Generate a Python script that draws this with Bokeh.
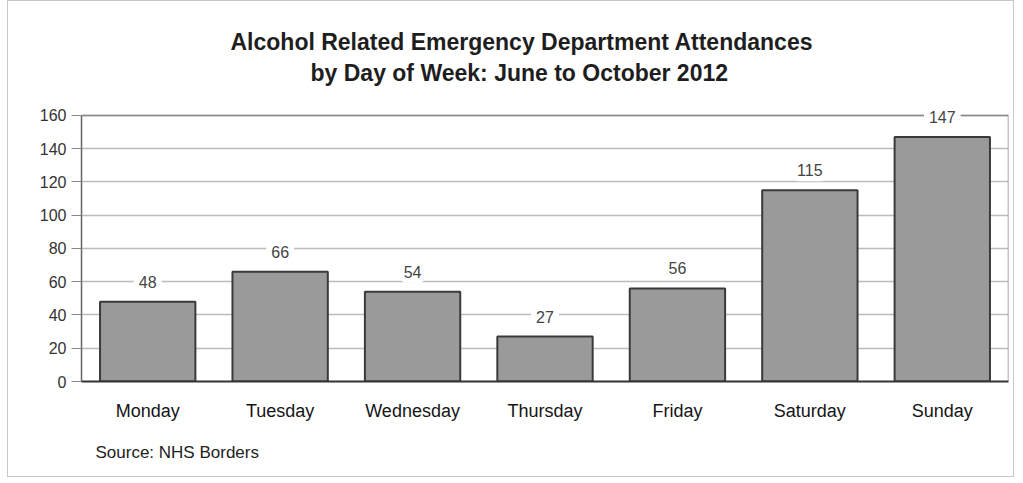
from bokeh.plotting import figure
from bokeh.models import ColumnDataSource, Title, Range1d, FixedTicker, LabelSet
from bokeh.core.properties import value
from bokeh.embed import file_html
from bokeh.resources import INLINE

days = ["Monday", "Tuesday", "Wednesday", "Thursday", "Friday", "Saturday", "Sunday"]
attendances = [48, 66, 54, 27, 56, 115, 147]
y_ticks = [0, 20, 40, 60, 80, 100, 120, 140, 160]
title_line1 = "Alcohol Related Emergency Department Attendances"
title_line2 = "by Day of Week: June to October 2012"
source_note = "Source: NHS Borders"

FONT = "Liberation Sans"
Y_MAX = y_ticks[-1]
n = len(days)
centers = [i + 0.5 for i in range(n)]

src = ColumnDataSource(dict(x=centers, day=days, value=attendances,
                            label=[str(v) for v in attendances]))

p = figure(x_range=Range1d(0, n),
           y_range=Range1d(0, 166),
           width=1007, height=477,
           output_backend="svg", toolbar_location=None,
           min_border_left=73, min_border_right=7,
           min_border_top=104, min_border_bottom=97)
p.styles = {"border": "1px solid #c8c8c8", "margin-left": "7px"}

p.vbar(x="x", top="value", width=0.72, source=src,
       fill_color="#9a9a9a", line_color="#3a3a3a", line_width=2)

# plot-area border at the top of the value axis (top and right sides)
p.segment(x0=[0, n], y0=[Y_MAX, 0], x1=[n, n], y1=[Y_MAX, Y_MAX],
          line_color="#8a8a8a", line_width=1.5)

labels = LabelSet(x="x", y="value", text="label", source=src,
                  text_align="center", text_baseline="middle",
                  y_offset=20, text_font=value(FONT), text_font_size="16px",
                  text_color="#444444", background_fill_color="white",
                  border_line_color="white", border_line_width=10)
p.add_layout(labels)

# title: second line is added first (closest to the frame)
t2 = Title(text=title_line2, align="left", offset=229, text_font=FONT,
           text_font_size="23px", text_font_style="bold", text_color="#1e1e1e",
           standoff=39)
p.add_layout(t2, "above")
t1 = Title(text=title_line1, align="left", offset=149, text_font=FONT,
           text_font_size="23px", text_font_style="bold", text_color="#1e1e1e",
           standoff=-32)
p.add_layout(t1, "above")

s = Title(text=source_note, align="left", text_font=FONT, text_font_size="17px",
          text_font_style="normal", text_color="#222222", offset=14, standoff=34)
p.add_layout(s, "below")

p.outline_line_color = None
p.background_fill_color = "white"
p.border_fill_color = "white"

p.xgrid.grid_line_color = None
p.ygrid.grid_line_color = "#bcbcbc"
p.ygrid.grid_line_width = 1.5

p.yaxis.ticker = FixedTicker(ticks=y_ticks)
p.yaxis.bounds = (0, Y_MAX)
p.yaxis.major_tick_out = 10
p.yaxis.major_tick_in = 0
p.yaxis.minor_tick_line_color = None
p.yaxis.major_label_standoff = 5
p.yaxis.major_label_text_font = FONT
p.yaxis.major_label_text_font_size = "16px"
p.yaxis.major_label_text_color = "#333333"
p.yaxis.axis_line_color = "#666666"
p.yaxis.axis_line_width = 1.5
p.yaxis.major_tick_line_color = "#888888"

p.xaxis.ticker = FixedTicker(ticks=centers)
p.xaxis.major_label_overrides = {c: d for c, d in zip(centers, days)}
p.xaxis.major_tick_line_color = None
p.xaxis.minor_tick_line_color = None
p.xaxis.major_label_standoff = 13
p.xaxis.major_label_text_font = FONT
p.xaxis.major_label_text_font_size = "18px"
p.xaxis.major_label_text_color = "#151515"
p.xaxis.axis_line_color = "#333333"
p.xaxis.axis_line_width = 2

open("out.html", "w").write(file_html(p, INLINE))
